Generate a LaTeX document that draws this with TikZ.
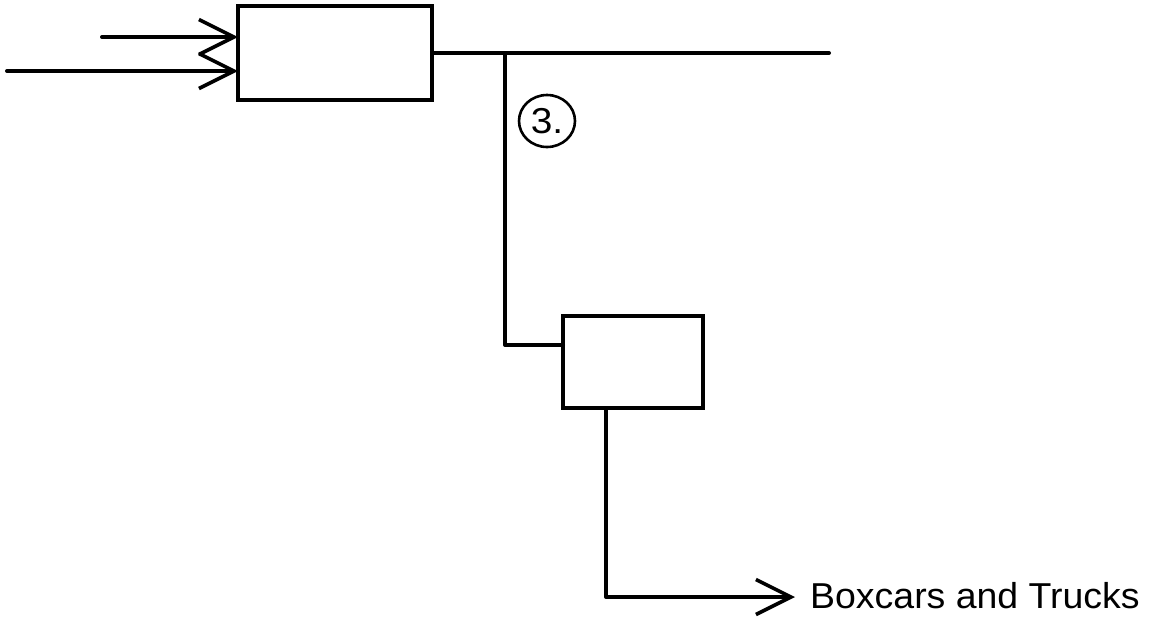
\documentclass[tikz,border=0pt]{standalone}
\usepackage{fontspec}
\setmainfont{Liberation Sans}
\usetikzlibrary{arrows.meta,shapes.geometric}
\newcommand{\tagtext}[1]{\scalebox{1.08}[1]{\fontsize{36}{38}\selectfont #1}}
\newcommand{\prodtext}[1]{\scalebox{1.04}[1]{\fontsize{36}{40}\selectfont #1}}
\begin{document}
\begin{tikzpicture}[x=1pt,y=-1pt,
  flow/.style={line width=4pt, line cap=round, line join=round},
  flowarrow/.style={flow, -{Straight Barb[length=35pt,width=35pt,line width=3.6pt]}},
  unit/.style={draw, line width=4pt, rectangle, outer sep=0pt, inner sep=0pt},
  streamtag/.style={draw, ellipse, line width=2.6pt, minimum width=56pt, minimum height=52pt, inner sep=0pt},
  prodlabel/.style={anchor=base west, inner sep=0pt}]
  \useasboundingbox (0,0) rectangle (1159,622);

  % process units
  \node[unit, minimum width=194pt, minimum height=94pt] (box1) at (335,53) {};
  \node[unit, minimum width=140pt, minimum height=92pt] (box2) at (633,362) {};

  % feeds into the first unit
  \coordinate (in1) at (102,37);
  \coordinate (in2) at (7,71);
  \draw[flowarrow] (in1) -- (in1 -| box1.west);
  \draw[flowarrow] (in2) -- (in2 -| box1.west);

  % main line and branch
  \coordinate (out) at (829,53);
  \coordinate (split) at (505,53);
  \draw[flow] (box1.east) -- (out);
  \coordinate (bend) at (505,345);
  \draw[flow] (split) -- (bend) -- (bend -| box2.west);

  % stream tag
  \node[streamtag] (t3) at (547,121) {\tagtext{3.}};

  % product stream
  \coordinate (drop) at (606,597);
  \coordinate (tip) at (795,597);
  \node[prodlabel] (prod) at (810,608) {\prodtext{Boxcars and Trucks}};
  \draw[flowarrow] (box2.south -| drop) -- (drop) -- (tip);
\end{tikzpicture}
\end{document}
